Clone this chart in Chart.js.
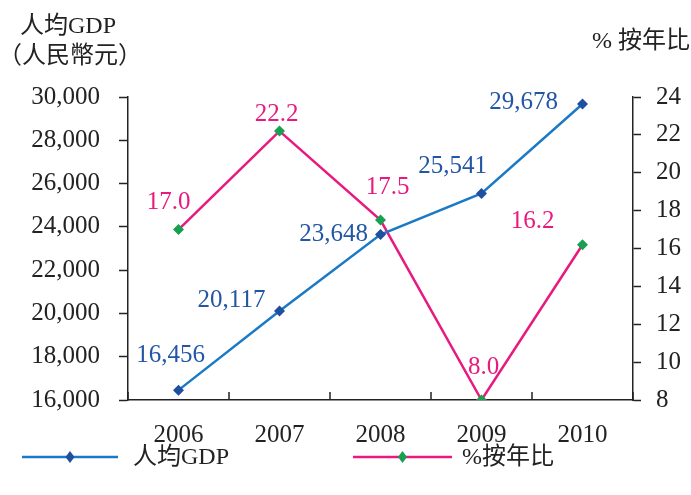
<!DOCTYPE html>
<html>
<head>
<meta charset="utf-8">
<script src="https://cdn.jsdelivr.net/npm/chart.js@4"></script>
<style>
html,body{margin:0;padding:0;background:#fff;}
#wrap{width:691px;height:495px;position:relative;}
</style>
</head>
<body>
<div id="wrap"><canvas id="c" width="691" height="495"></canvas></div>
<script>
const categories = ['2006', '2007', '2008', '2009', '2010'];
const gdpValues = [16456, 20117, 23648, 25541, 29678];
const growthValues = [17.0, 22.2, 17.5, 8.0, 16.2];
const gdpLabels = ['16,456', '20,117', '23,648', '25,541', '29,678'];
const growthLabels = ['17.0', '22.2', '17.5', '8.0', '16.2'];
const seriesNames = ['人均GDP', '%按年比'];
const leftTitle = ['人均GDP', '（人民幣元）'];
const rightTitle = '% 按年比';

// label placement offsets (layout, px relative to the point)
const gdpLabelOffsets = [[-8,-35],[-48,-10],[-47,0],[-29,-27],[-59,-2]];
const growthLabelOffsets = [[-10,-27],[-3,-17],[7,-33],[2,-33],[-50,-23]];

const BLUE_LINE = '#1b7ac6', BLUE_PT = '#1f4f9f', BLUE_TXT = '#2356a5';
const PINK = '#e8197f', GREEN = '#17a050';
const FONT = '"Liberation Serif", "Noto Sans CJK TC", serif';

const overlay = {
  id: 'overlay',
  afterDraw(chart) {
    const ctx = chart.ctx;
    const x = chart.scales.x, y = chart.scales.y, y1 = chart.scales.y1;
    const area = chart.chartArea;
    ctx.save();
    // x-axis inward ticks at category boundaries
    ctx.strokeStyle = '#222';
    ctx.lineWidth = 1.5;
    const step = x.getPixelForValue(1) - x.getPixelForValue(0);
    for (let i = 0; i <= categories.length; i++) {
      const px = Math.round(x.getPixelForValue(0) - step / 2 + i * step);
      ctx.beginPath();
      ctx.moveTo(px, area.bottom);
      ctx.lineTo(px, area.bottom - 8);
      ctx.stroke();
    }
    // data labels
    ctx.font = '25px ' + FONT;
    ctx.textAlign = 'center';
    ctx.textBaseline = 'middle';
    ctx.fillStyle = BLUE_TXT;
    gdpValues.forEach((v, i) => {
      const px = x.getPixelForValue(i), py = y.getPixelForValue(v);
      ctx.fillText(gdpLabels[i], px + gdpLabelOffsets[i][0], py + gdpLabelOffsets[i][1]);
    });
    ctx.fillStyle = PINK;
    growthValues.forEach((v, i) => {
      const px = x.getPixelForValue(i), py = y1.getPixelForValue(v);
      ctx.fillText(growthLabels[i], px + growthLabelOffsets[i][0], py + growthLabelOffsets[i][1]);
    });
    // axis titles
    ctx.fillStyle = '#222';
    ctx.textBaseline = 'alphabetic';
    ctx.textAlign = 'left';
    ctx.font = '24px ' + FONT;
    ctx.fillText(leftTitle[0], 20, 33);
    ctx.fillText(leftTitle[1], -2, 63);
    ctx.textAlign = 'right';
    ctx.fillText(rightTitle, 690, 48);
    // legend
    const legendY = 457;
    const items = [
      {x0: 22, x1: 118, line: BLUE_LINE, pt: BLUE_PT, tx: 133, name: seriesNames[0]},
      {x0: 353, x1: 452, line: PINK, pt: GREEN, tx: 462, name: seriesNames[1]}
    ];
    items.forEach(it => {
      ctx.strokeStyle = it.line;
      ctx.lineWidth = 2.5;
      ctx.beginPath();
      ctx.moveTo(it.x0, legendY);
      ctx.lineTo(it.x1, legendY);
      ctx.stroke();
      const cx = (it.x0 + it.x1) / 2;
      ctx.fillStyle = it.pt;
      ctx.beginPath();
      ctx.moveTo(cx, legendY - 6);
      ctx.lineTo(cx + 4.5, legendY);
      ctx.lineTo(cx, legendY + 6);
      ctx.lineTo(cx - 4.5, legendY);
      ctx.closePath();
      ctx.fill();
      ctx.fillStyle = '#222';
      ctx.textAlign = 'left';
      ctx.textBaseline = 'middle';
      ctx.font = '24px ' + FONT;
      ctx.fillText(it.name, it.tx, legendY + 1);
    });
    ctx.restore();
  }
};

new Chart(document.getElementById('c'), {
  type: 'line',
  data: {
    labels: categories,
    datasets: [
      {
        label: seriesNames[0], data: gdpValues, yAxisID: 'y',
        borderColor: BLUE_LINE, borderWidth: 2.5, backgroundColor: BLUE_PT,
        pointStyle: 'rectRot', pointRadius: 5.5, pointBorderWidth: 0,
        pointBackgroundColor: BLUE_PT, tension: 0, fill: false
      },
      {
        label: seriesNames[1], data: growthValues, yAxisID: 'y1',
        borderColor: PINK, borderWidth: 2.5, backgroundColor: GREEN,
        pointStyle: 'rectRot', pointRadius: 5.5, pointBorderWidth: 0,
        pointBackgroundColor: GREEN, tension: 0, fill: false
      }
    ]
  },
  options: {
    responsive: false,
    animation: false,
    layout: {padding: {top: 97, left: 0, right: 0, bottom: 0}},
    plugins: {legend: {display: false}, tooltip: {enabled: false}},
    scales: {
      x: {
        offset: true,
        grid: {display: true, drawOnChartArea: false, drawTicks: false, offset: true, color: 'rgba(0,0,0,0)'},
        border: {display: true, color: '#222', width: 1.5},
        ticks: {color: '#222', font: {family: FONT, size: 25}, padding: 20},
        afterFit(s) { s.height = 95; }
      },
      y: {
        position: 'left', min: 16000, max: 30000,
        grid: {drawOnChartArea: false, drawTicks: true, tickLength: 9, tickColor: '#222', tickWidth: 1.5},
        border: {display: true, color: '#222', width: 1.5},
        ticks: {stepSize: 2000, color: '#222', padding: 19, font: {family: FONT, size: 25},
          callback: v => v.toLocaleString('en-US')},
        afterFit(s) { s.width = 128; }
      },
      y1: {
        position: 'right', min: 8, max: 24,
        grid: {drawOnChartArea: false, drawTicks: true, tickLength: 8, tickColor: '#222', tickWidth: 1.5},
        border: {display: true, color: '#222', width: 1.5},
        ticks: {stepSize: 2, color: '#222', padding: 15, font: {family: FONT, size: 25}},
        afterFit(s) { s.width = 58; }
      }
    }
  },
  plugins: [overlay]
});
</script>
</body>
</html>
